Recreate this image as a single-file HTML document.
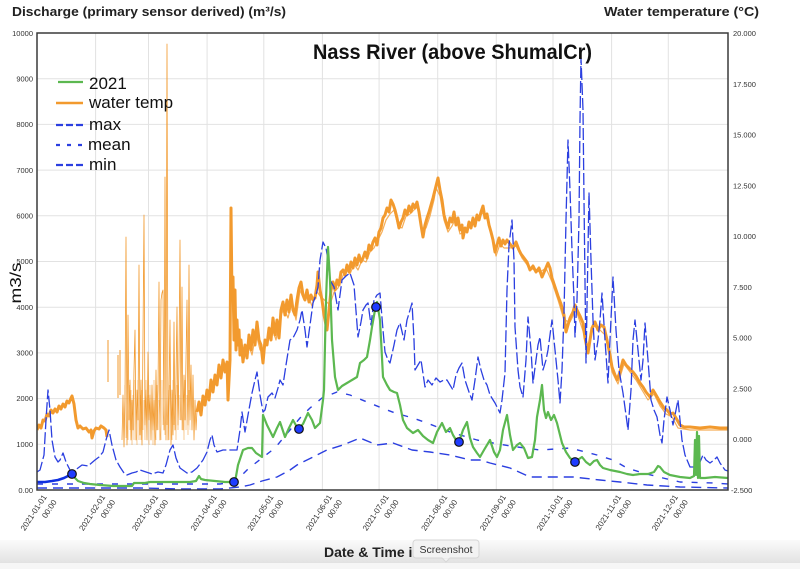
<!DOCTYPE html>
<html><head><meta charset="utf-8"><style>
html,body{margin:0;padding:0;background:#fff;width:800px;height:569px;overflow:hidden}
svg{display:block}
text{font-family:"Liberation Sans",sans-serif}
</style></head><body>
<svg width="800" height="569" viewBox="0 0 800 569" xmlns="http://www.w3.org/2000/svg">
<defs>
<linearGradient id="bar" x1="0" y1="0" x2="0" y2="1">
<stop offset="0" stop-color="#fbfbfb"/><stop offset="1" stop-color="#e2e2e2"/>
</linearGradient>
<clipPath id="plot"><rect x="37" y="33" width="691" height="457"/></clipPath>
</defs>
<rect width="800" height="569" fill="#fff"/>
<!-- headers -->
<text x="12" y="16" font-size="13" font-weight="bold" fill="#222" textLength="274" lengthAdjust="spacingAndGlyphs">Discharge (primary sensor derived) (m³/s)</text>
<text x="604" y="16" font-size="13" font-weight="bold" fill="#222" textLength="155" lengthAdjust="spacingAndGlyphs">Water temperature (°C)</text>
<!-- grid -->
<g stroke="#e2e2e2" stroke-width="1">
<path d="M95.6 33V490M148.5 33V490M207.1 33V490M263.8 33V490M322.4 33V490M379.1 33V490M437.7 33V490M496.3 33V490M553 33V490M611.6 33V490M668.3 33V490"/>
<path d="M37 444.3H728M37 398.6H728M37 352.9H728M37 307.2H728M37 261.5H728M37 215.8H728M37 170.1H728M37 124.4H728M37 78.7H728"/>
</g>
<!-- left ticks -->
<g font-size="7.5" fill="#333" text-anchor="end">
<text x="33" y="36">10000</text><text x="33" y="81.5">9000</text><text x="33" y="127">8000</text><text x="33" y="173">7000</text><text x="33" y="218.5">6000</text><text x="33" y="264">5000</text><text x="33" y="310">4000</text><text x="33" y="355.5">3000</text><text x="33" y="401">2000</text><text x="33" y="447">1000</text><text x="33" y="493">0.00</text>
</g>
<!-- right ticks -->
<g font-size="7.5" fill="#333">
<text x="733" y="36">20.000</text><text x="733" y="87">17.500</text><text x="733" y="137.5">15.000</text><text x="733" y="188.5">12.500</text><text x="733" y="239">10.000</text><text x="733" y="290">7.500</text><text x="733" y="340.5">5.000</text><text x="733" y="391.5">2.500</text><text x="733" y="442">0.000</text><text x="731" y="493">-2.500</text>
</g>
<text transform="translate(21,283) rotate(-90)" font-size="16" fill="#111" text-anchor="middle" textLength="41" lengthAdjust="spacingAndGlyphs">m3/s</text>

<g clip-path="url(#plot)" fill="none" stroke-linejoin="round">
<!-- orange water temp -->
<g stroke="#f29a2e">
<path stroke-width="3" d="M37,430 L39,425 41,428 43,420 45,421 47,414 49,416 51,410 53,413 55,409 57,412 59,406 61,409 63,404 65,407 67,401 69,403 71,398 72,396 74,404 76,420 78,428 80,426 83,429 86,428 89,432 91,430 92,438 94,431 96,428 99,429 101,426 104,428 106,430 107,437"/>
<path stroke-width="1" d="M108,340V382M118,355V398M120,350V395"/>
<path stroke-width="0.8" d="M122,440 123,395 124,447 125,400 126,237 127,445 128,315 129,420 130,380 131,440 132,400 133,430 134,370 135,330 136,440 137,390 138,420 139,265 140,435 141,380 142,445 143,337 144,215 145,425 146,390 147,440 148,352 149,420 150,395 151,440 152,385 153,430 154,400 155,445 156,370 157,430 158,390 159,282 160,440 161,300 162,293 163,290 164,430 165,177 166,440 167,44 168,440 169,395 170,320 171,445 172,390 173,435 174,322 175,430 176,380 177,307 178,425 179,360 180,240 181,420 182,287 183,430 184,375 185,420 186,360 187,300 188,425 189,265 190,420 191,365 192,430 193,375 194,440 195,400 196,430 197,410"/>
<path stroke-width="0.5" stroke-opacity="0.6" d="M124,430 125,385 126,438 127,395 128,440 129,385 130,430 131,390 132,445 133,395 134,440 135,380 136,420 137,445 138,380 139,440 140,395 141,440 142,390 143,430 144,400 145,440 146,380 147,430 148,395 149,445 150,385 151,430 152,400 153,445 154,380 155,425 156,440 157,385 158,430 159,400 160,420 161,440 162,380 163,425 164,395 165,435 166,385 167,425 168,390 169,440 170,385 171,420 172,440 173,380 174,425 175,395 176,440 177,385 178,430 179,395 180,420 181,380 182,430 183,395 184,440 185,380 186,430 187,395 188,435 189,390 190,430"/>
<path stroke-width="3" d="M197,412 199,402 201,415 203,396 205,405 207,390 209,400 211,380 213,392 215,375 217,385 219,365 221,378 223,360 225,372 227,362 228,400 229,380 230,360 231,208 232,300 233,277 234,340 235,290 236,350 237,320 238,345 239,330 240,355 241,340 243,362 245,345 247,358 249,335 251,350 253,330 255,345 257,322 259,340 261,345 263,363 265,340 267,345 269,328 271,340 273,318 275,335 277,320 279,338 281,310 283,302 285,315 287,300 289,312 291,295 293,310 295,315 297,300 299,288 301,282 303,295 305,300 307,290 309,302 311,295 313,300 315,298 317,285 318,272 320,290 322,300 324,315 326,325 327,330 329,310 331,290 333,282 335,290 337,280 339,285 341,272 343,270 345,275 347,265 349,272 351,262 353,268 355,258 357,265 359,255 361,262 363,258 365,252 367,258 369,245 371,250 373,242 375,238 377,245 379,232 381,228 383,218 385,215 387,208 389,212 391,200 393,204 395,210 397,218 399,228 401,222 403,218 405,210 407,215 409,206 411,212 413,204 415,208 417,202 419,212 421,225 423,237 425,225 427,218 429,212 431,205 433,198 435,190 437,182 438,178 440,190 442,200 444,215 446,222 448,228 450,218 452,222 454,212 456,225 458,218 460,230 462,225 463,238 465,228 467,232 469,222 471,228 473,218 475,226 477,215 479,220 481,212 483,206 485,218 487,214 489,225 491,232 493,240 495,252 497,245 499,238 501,246 503,240 505,244 507,240 510,244 513,248 516,242 519,250 521,254 524,258 527,262 530,270 533,266 536,272 539,268 542,277 545,270 548,263 550,268 552,278 555,287 558,296 561,304 564,315 566,332 568,325 570,318 573,312 575,305 577,310 580,316 583,323 585,338 588,353 590,340 592,328 595,322 598,330 601,325 604,327 607,340 610,355 612,367 615,375 617,380 620,372 623,360 626,365 629,368 633,372 636,376 640,383 643,387 646,392 650,397 653,390 656,395 660,402 664,408 667,410 670,414 673,413 676,418 680,425 684,427 690,427 700,428 710,427 720,428 728,428"/>
<path stroke-width="1.2" stroke-opacity="0.8" d="M240,348 244,356 248,342 252,355 256,333 260,350 264,352 268,336 272,328 276,340 280,318 284,308 288,318 292,302 296,320 300,290 304,300 308,296 312,306 316,290 320,296 330,305 334,292 338,288 342,278 346,268 350,274 354,264 358,270 362,260 366,262 370,252 374,248 378,240 382,232 386,220 390,214 394,210 398,226 402,228 406,216 410,214 414,210 418,206 422,230 426,228 430,216 434,200 436,188 440,196 444,220 448,232 452,226 456,218 460,234 464,232 468,226 472,224 476,222 480,216 484,212 488,222 492,238 496,256 500,244 504,248 510,248 516,246 522,258 528,266 534,270 540,272 546,268 552,282 558,300 564,320 570,322 576,310 582,328 588,346 594,326 600,330 606,336 612,372 618,384 624,364 630,372 636,380 642,390 648,400 654,394 660,406 666,414 672,417 678,428 690,430 728,430"/>
</g>
<!-- max -->
<path stroke="#2b3fe0" stroke-width="1.3" stroke-dasharray="12,3" d="M37,472 L40,470 44,455 46,420 48,390 50,410 52,440 55,457 58,462 60,460 63,453 66,462 70,470 73,472 78,468 82,465 88,466 95,460 99,457 103,452 106,440 109,430 112,445 116,460 120,467 124,473 127,475 132,473 136,472 140,470 146,472 152,474 158,472 163,473 166,465 170,450 173,445 176,458 180,468 187,473 192,472 197,468 203,460 207,452 210,440 212,435 214,445 217,452 223,450 230,450 237,450 240,430 242,412 245,432 248,415 252,393 255,380 257,372 260,395 263,412 265,410 268,397 272,393 275,398 278,388 280,380 283,385 286,365 290,340 293,338 297,330 300,320 302,310 305,330 307,347 310,325 313,303 316,295 318,287 320,260 323,242 326,248 328,260 330,280 334,287 338,310 342,280 346,276 350,273 354,285 358,337 361,322 363,310 366,305 368,303 371,325 374,300 377,295 380,293 383,330 385,352 388,360 390,363 394,345 397,330 400,323 404,340 407,320 410,310 412,303 414,340 415,370 418,365 421,360 425,387 428,380 432,385 436,378 440,382 444,380 447,380 450,385 453,390 456,375 459,368 462,363 465,380 469,392 472,400 475,380 478,357 481,370 484,380 487,385 490,395 495,403 500,413 502,400 505,373 507,290 509,245 512,220 514,260 515,327 518,370 520,387 523,397 526,360 528,317 531,350 533,383 536,360 538,345 540,337 543,370 546,360 548,350 550,335 552,320 555,350 558,380 560,403 562,370 564,313 566,220 568,140 570,190 572,250 574,300 575,337 577,300 579,220 580,120 581,58 583,110 584,200 586,363 588,250 589,193 591,260 593,320 595,360 598,340 600,320 602,293 605,340 608,383 610,340 613,277 616,330 619,370 623,393 626,415 628,430 631,390 633,340 635,320 638,350 641,380 643,360 645,323 648,360 651,400 654,410 657,417 660,435 662,443 664,420 667,397 670,410 673,425 676,410 678,400 680,420 682,440 685,455 690,467 695,467 700,462 703,455 706,460 710,463 714,460 717,457 720,463 725,470 728,471"/>
<!-- mean -->
<path stroke="#2b3fe0" stroke-width="1.4" stroke-dasharray="6,9" d="M37,484 L100,484 140,484 180,484 220,484 235,482 248,469 262,458 275,448 290,430 300,418 310,408 322,398 337,392 350,395 367,402 382,408 395,413 413,418 427,423 450,432 477,440 493,443 510,446 540,450 570,448 597,455 613,460 627,468 643,473 663,478 680,482 713,483 728,484"/>
<!-- min -->
<path stroke="#2b3fe0" stroke-width="1.4" stroke-dasharray="10,6" d="M37,488 L100,488 140,488 180,489 220,489 240,487 250,485 262,481 277,477 290,470 297,465 313,457 327,450 343,445 360,438 377,445 393,443 412,450 430,452 450,455 470,460 480,460 490,463 510,468 530,477 550,477 573,477 600,480 620,482 647,485 680,487 728,488"/>
<!-- 2021 -->
<path stroke="#1030e0" stroke-width="2.6" d="M37,482 L45,482 52,481 58,480 64,478 68,476 72,474"/>
<path stroke="#5cb850" stroke-width="2.2" d="M72,474 L75,478 78,481 84,483 90,484 100,485 113,486 125,486 132,486 134,483 140,483 145,483 150,482 160,482 170,482 180,482 190,482 196,481 199,476 201,479 205,480 215,481 225,482 235,482 L238,465 243,450 248,448 252,448 256,453 262,457 263,415 267,425 273,437 277,428 280,422 285,437 289,428 293,420 298,429 303,424 308,413 312,420 315,428 320,423 323,400 324,390 326,300 328,247 330,280 332,340 335,377 338,390 342,386 347,383 352,380 357,377 360,363 364,360 367,357 370,340 372,327 375,310 377,302 380,320 383,377 387,385 390,390 394,392 397,393 400,405 403,420 407,428 413,433 418,430 423,436 428,440 433,443 437,432 442,423 446,432 450,428 453,435 456,440 459,442 463,430 467,422 470,438 473,447 477,453 480,457 484,450 490,440 494,452 497,457 500,450 503,430 507,415 510,435 513,450 517,445 520,443 524,448 528,458 532,457 535,440 537,417 540,400 542,385 544,410 546,418 548,412 551,420 554,415 557,423 560,435 562,443 566,452 570,458 575,462 579,459 582,457 586,462 590,465 594,461 597,460 600,465 603,468 610,470 620,472 627,474 633,475 640,474 648,474 654,472 658,466 660,467 664,472 670,475 680,477 690,478 694,476 695,440 696,475 697,432 698,478 699,436 700,478 705,478 715,477 728,478"/>
</g>
<!-- dots -->
<g fill="#1f3cff" stroke="#111" stroke-width="1.2">
<circle cx="72" cy="474" r="4.3"/><circle cx="234" cy="482" r="4.3"/><circle cx="299" cy="429" r="4.3"/><circle cx="376" cy="307" r="4.3"/><circle cx="459" cy="442" r="4.3"/><circle cx="575" cy="462" r="4.3"/>
</g>
<!-- frame -->
<rect x="37" y="33" width="691" height="457" fill="none" stroke="#3a3a3a" stroke-width="1.5"/>
<!-- title -->
<text x="313" y="59" font-size="21" font-weight="bold" fill="#111" textLength="279" lengthAdjust="spacingAndGlyphs">Nass River (above ShumalCr)</text>
<!-- legend -->
<g stroke-width="2.2" fill="none">
<path d="M58,82H83" stroke="#5cb850"/>
<path d="M56,103H83" stroke="#f29a2e" stroke-width="2.6"/>
<path d="M56,125H83" stroke="#2b3fe0" stroke-dasharray="7,3"/>
<path d="M56,145H83" stroke="#2b3fe0" stroke-dasharray="4,7"/>
<path d="M56,165H83" stroke="#2b3fe0" stroke-dasharray="7,3"/>
</g>
<g font-size="17" fill="#111">
<text x="89" y="89">2021</text><text x="89" y="108">water temp</text><text x="89" y="130">max</text><text x="88" y="150">mean</text><text x="89" y="170">min</text>
</g>
<!-- x labels -->
<g font-size="8" fill="#333" text-anchor="end">
<text transform="translate(47,497) rotate(-57)">2021-01-01</text><text transform="translate(57,502) rotate(-57)">00:00</text>
<text transform="translate(105.6,497) rotate(-57)">2021-02-01</text><text transform="translate(115.6,502) rotate(-57)">00:00</text>
<text transform="translate(158.5,497) rotate(-57)">2021-03-01</text><text transform="translate(168.5,502) rotate(-57)">00:00</text>
<text transform="translate(217.1,497) rotate(-57)">2021-04-01</text><text transform="translate(227.1,502) rotate(-57)">00:00</text>
<text transform="translate(273.8,497) rotate(-57)">2021-05-01</text><text transform="translate(283.8,502) rotate(-57)">00:00</text>
<text transform="translate(332.4,497) rotate(-57)">2021-06-01</text><text transform="translate(342.4,502) rotate(-57)">00:00</text>
<text transform="translate(389.1,497) rotate(-57)">2021-07-01</text><text transform="translate(399.1,502) rotate(-57)">00:00</text>
<text transform="translate(447.7,497) rotate(-57)">2021-08-01</text><text transform="translate(457.7,502) rotate(-57)">00:00</text>
<text transform="translate(506.3,497) rotate(-57)">2021-09-01</text><text transform="translate(516.3,502) rotate(-57)">00:00</text>
<text transform="translate(563,497) rotate(-57)">2021-10-01</text><text transform="translate(573,502) rotate(-57)">00:00</text>
<text transform="translate(621.6,497) rotate(-57)">2021-11-01</text><text transform="translate(631.6,502) rotate(-57)">00:00</text>
<text transform="translate(678.3,497) rotate(-57)">2021-12-01</text><text transform="translate(688.3,502) rotate(-57)">00:00</text>
</g>
<!-- bottom bar -->
<rect x="0" y="540" width="800" height="23" fill="url(#bar)"/>
<rect x="0" y="563" width="800" height="6" fill="#f6f6f6"/>
<text x="324" y="557" font-size="14" font-weight="bold" fill="#222">Date &amp; Time in</text>
<!-- tooltip -->
<rect x="413" y="540" width="66" height="18" rx="3" fill="#f3f3f3" stroke="#d6d6d6" stroke-width="1"/>
<path d="M442,558 L446,562 L450,558 Z" fill="#f3f3f3" stroke="#d6d6d6" stroke-width="1"/>
<path d="M442.5,557.5 H449.5" stroke="#f3f3f3" stroke-width="1.5"/>
<text x="446" y="553" font-size="10.5" fill="#333" text-anchor="middle">Screenshot</text>
</svg>
</body></html>
